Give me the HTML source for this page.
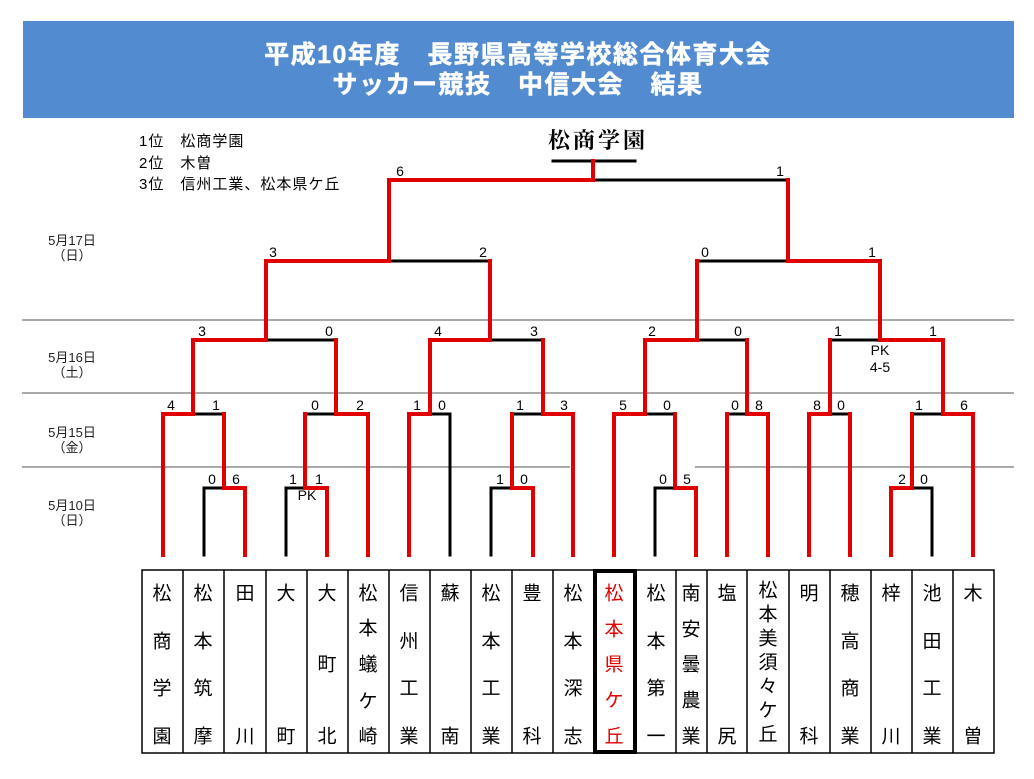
<!DOCTYPE html>
<html><head><meta charset="utf-8">
<style>
html,body{margin:0;padding:0;background:#fff;width:1034px;height:779px;overflow:hidden}
svg{display:block}
.t{font-family:"Liberation Sans","Noto Sans CJK JP",sans-serif}
</style></head><body>
<svg width="1034" height="779" viewBox="0 0 1034 779" xmlns="http://www.w3.org/2000/svg" class="t">
<rect x="23" y="21" width="991" height="97" fill="#528bd0"/>
<text x="518" y="63" fill="#fff" font-size="25" font-weight="bold" text-anchor="middle" letter-spacing="1.5" font-family="Liberation Sans,Noto Sans CJK JP,sans-serif" stroke="#fff" stroke-width="0.5">平成10年度　長野県高等学校総合体育大会</text>
<text x="518" y="93" fill="#fff" font-size="25" font-weight="bold" text-anchor="middle" letter-spacing="1.5" font-family="Liberation Sans,Noto Sans CJK JP,sans-serif" stroke="#fff" stroke-width="0.5">サッカー競技　中信大会　結果</text>

<g font-size="15" fill="#000" letter-spacing="1">
<text x="139" y="146">1位　松商学園</text>
<text x="139" y="168">2位　木曽</text>
<text x="139" y="189">3位　信州工業、松本県ケ丘</text>
</g>
<text x="598" y="148" font-size="22" font-weight="bold" text-anchor="middle" letter-spacing="3" font-family="Noto Serif CJK JP,serif">松商学園</text>

<g font-size="13" fill="#222" text-anchor="middle">
<text x="72" y="245">5月17日</text><text x="72" y="260">（日）</text>
<text x="72" y="362">5月16日</text><text x="72" y="377">（土）</text>
<text x="72" y="437">5月15日</text><text x="72" y="452">（金）</text>
<text x="72" y="510">5月10日</text><text x="72" y="525">（日）</text>
</g>

<g stroke="#555" stroke-width="1">
<line x1="22" y1="320" x2="1014" y2="320"/>
<line x1="22" y1="393" x2="1014" y2="393"/>
<line x1="22" y1="467" x2="570" y2="467"/>
<line x1="695" y1="467" x2="1014" y2="467"/>
</g>

<g stroke="#000" stroke-width="3" fill="none" stroke-linecap="square">
<line x1="553" y1="161" x2="635" y2="161"/>
<path d="M204 555V488H224"/><path d="M286 555V488H305"/><path d="M491 555V488H512"/><path d="M655 555V488H675"/><path d="M932 555V488H912"/>
<path d="M450 555V414H430"/>
<line x1="193" y1="414" x2="224" y2="414"/><line x1="305" y1="414" x2="336" y2="414"/><line x1="512" y1="414" x2="543" y2="414"/><line x1="645" y1="414" x2="675" y2="414"/><line x1="727" y1="414" x2="747" y2="414"/><line x1="830" y1="414" x2="850" y2="414"/><line x1="912" y1="414" x2="943" y2="414"/>
<line x1="266" y1="340" x2="336" y2="340"/><line x1="490" y1="340" x2="543" y2="340"/><line x1="697" y1="340" x2="747" y2="340"/><line x1="830" y1="340" x2="880" y2="340"/>
<line x1="389" y1="261" x2="490" y2="261"/><line x1="697" y1="261" x2="788" y2="261"/>
<line x1="593" y1="180" x2="788" y2="180"/>
</g>

<g stroke="#e00000" stroke-width="4" fill="none" stroke-linecap="square">
<path d="M245 555V488H224V414"/><path d="M327 555V488H305V414"/><path d="M533 555V488H512V414"/><path d="M696 555V488H675V414"/><path d="M891 555V488H912V414"/>
<path d="M163 555V414H193V340H266V261H389V180H593V161"/>
<path d="M368 555V414H336V340"/>
<path d="M409 555V414H430V340H490V261"/>
<path d="M573 555V414H543V340"/>
<path d="M614 555V414H645V340H697V261"/>
<path d="M727 555V414"/>
<path d="M768 555V414H747V340"/>
<path d="M809 555V414H830V340"/>
<path d="M850 555V414"/>
<path d="M973 555V414H943V340H880V261H788V180"/>
</g>

<g font-size="14" fill="#000" text-anchor="middle">
<text x="400" y="176">6</text><text x="780" y="176">1</text>
<text x="273" y="257">3</text><text x="483" y="257">2</text><text x="705" y="257">0</text><text x="872" y="257">1</text>
<text x="202" y="336">3</text><text x="329" y="336">0</text><text x="438" y="336">4</text><text x="534" y="336">3</text><text x="652" y="336">2</text><text x="738" y="336">0</text><text x="838" y="336">1</text><text x="933" y="336">1</text>
<text x="880" y="355">PK</text><text x="880" y="372">4-5</text>
<text x="171" y="410">4</text><text x="216" y="410">1</text><text x="315" y="410">0</text><text x="360" y="410">2</text><text x="417" y="410">1</text><text x="442" y="410">0</text><text x="520" y="410">1</text><text x="564" y="410">3</text><text x="623" y="410">5</text><text x="667" y="410">0</text><text x="735" y="410">0</text><text x="759" y="410">8</text><text x="817" y="410">8</text><text x="841" y="410">0</text><text x="919" y="410">1</text><text x="964" y="410">6</text>
<text x="212" y="484">0</text><text x="236" y="484">6</text><text x="293" y="484">1</text><text x="319" y="484">1</text><text x="307" y="500">PK</text><text x="500" y="484">1</text><text x="524" y="484">0</text><text x="663" y="484">0</text><text x="687" y="484">5</text><text x="902" y="484">2</text><text x="924" y="484">0</text>
</g>

<g stroke="#000" stroke-width="1.5" fill="none">
<rect x="142" y="570" width="852" height="183"/>
<path d="M183 570V753M224 570V753M266 570V753M307 570V753M348 570V753M389 570V753M430 570V753M471 570V753M512 570V753M553 570V753M676 570V753M707 570V753M747 570V753M789 570V753M830 570V753M871 570V753M912 570V753M953 570V753"/>
</g>
<rect x="595" y="571" width="40" height="181" stroke="#000" stroke-width="4" fill="none"/>
<g font-size="19" text-anchor="middle" dominant-baseline="central" font-family="Noto Sans CJK JP,sans-serif" fill="#000">
<text x="162" y="592">松</text><text x="162" y="640">商</text><text x="162" y="687">学</text><text x="162" y="735">園</text>
<text x="203" y="592">松</text><text x="203" y="640">本</text><text x="203" y="687">筑</text><text x="203" y="735">摩</text>
<text x="245" y="592">田</text><text x="245" y="735">川</text>
<text x="286" y="592">大</text><text x="286" y="735">町</text>
<text x="327" y="592">大</text><text x="327" y="663">町</text><text x="327" y="735">北</text>
<text x="368" y="592">松</text><text x="368" y="627">本</text><text x="368" y="663">蟻</text><text x="368" y="700">ケ</text><text x="368" y="735">崎</text>
<text x="409" y="592">信</text><text x="409" y="640">州</text><text x="409" y="687">工</text><text x="409" y="735">業</text>
<text x="450" y="592">蘇</text><text x="450" y="735">南</text>
<text x="491" y="592">松</text><text x="491" y="640">本</text><text x="491" y="687">工</text><text x="491" y="735">業</text>
<text x="532" y="592">豊</text><text x="532" y="735">科</text>
<text x="573" y="592">松</text><text x="573" y="640">本</text><text x="573" y="687">深</text><text x="573" y="735">志</text>
<g fill="#e00000"><text x="614" y="592">松</text><text x="614" y="628">本</text><text x="614" y="663">県</text><text x="614" y="699">ケ</text><text x="614" y="735">丘</text></g>
<text x="656" y="592">松</text><text x="656" y="640">本</text><text x="656" y="687">第</text><text x="656" y="735">一</text>
<text x="691" y="592">南</text><text x="691" y="628">安</text><text x="691" y="663">曇</text><text x="691" y="699">農</text><text x="691" y="735">業</text>
<text x="727" y="592">塩</text><text x="727" y="735">尻</text>
<text x="768" y="589">松</text><text x="768" y="613">本</text><text x="768" y="637">美</text><text x="768" y="661">須</text><text x="768" y="685">々</text><text x="768" y="709">ケ</text><text x="768" y="733">丘</text>
<text x="809" y="592">明</text><text x="809" y="735">科</text>
<text x="850" y="592">穂</text><text x="850" y="640">高</text><text x="850" y="687">商</text><text x="850" y="735">業</text>
<text x="891" y="592">梓</text><text x="891" y="735">川</text>
<text x="932" y="592">池</text><text x="932" y="640">田</text><text x="932" y="687">工</text><text x="932" y="735">業</text>
<text x="973" y="592">木</text><text x="973" y="735">曽</text>
</g>
</svg>
</body></html>
